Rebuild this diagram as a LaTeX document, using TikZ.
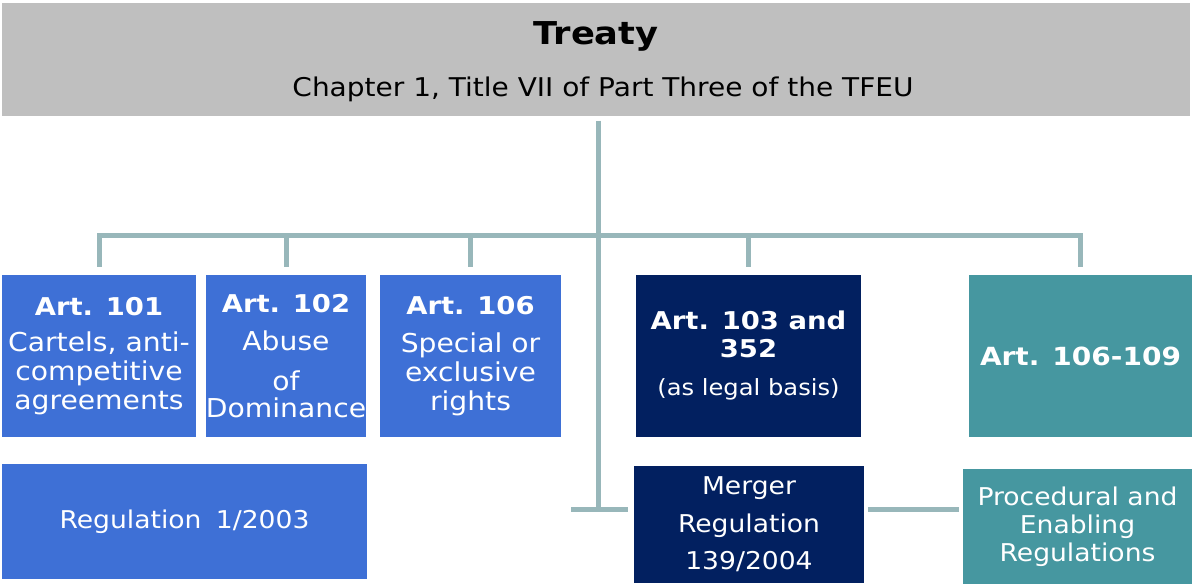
\documentclass[tikz,border=0pt]{standalone}
\usepackage{fontspec}
\setmainfont{DejaVu Sans}[FakeStretch=1.085]
\newfontfamily\boldwide{DejaVu Sans}[FakeStretch=1.12]
\definecolor{grayhead}{HTML}{BFBFBF}
\definecolor{blu}{HTML}{3E70D6}
\definecolor{navy}{HTML}{022060}
\definecolor{teal}{HTML}{4697A0}
\definecolor{linec}{HTML}{98B7BA}
\newcommand\boxfont{\fontsize{26}{29}\selectfont}
\newcommand\lowfont{\fontsize{24.5}{28}\selectfont}
\newcommand\hd[1]{{\boldwide\bfseries\fontsize{24.5}{28}\selectfont #1}}
\begin{document}
\begin{tikzpicture}[x=1pt,y=-1pt,
  box/.style={rectangle, inner sep=0pt, text=white, align=center, font=\boxfont},
  conn/.style={draw=linec, line width=5pt}]
\useasboundingbox[fill=white] (0,0) rectangle (1192,584);

\node[rectangle, fill=grayhead, inner sep=0pt, minimum width=1188pt, minimum height=113pt, align=center, font=\fontsize{25.8}{30}\selectfont]
  (treaty) at (596,59) {\mbox{}\\[-2pt]{\boldwide\bfseries\fontsize{31.5}{36}\selectfont Treaty}\\[22pt]\hspace*{14pt}Chapter 1, Title VII of Part Three of the TFEU};

\node[box, fill=blu, minimum width=194pt, minimum height=162pt] (a101) at (99,356)
  {\hd{Art. 101}\\[7pt]Cartels, anti-\\competitive\\agreements};
\node[box, fill=blu, minimum width=160pt, minimum height=162pt] (a102) at (286,356)
  {\hd{Art. 102}\\[9pt]Abuse\\[11pt]of\\[-2pt]Dominance};
\node[box, fill=blu, minimum width=181pt, minimum height=162pt] (a106) at (470.5,356)
  {\hd{Art. 106}\\[9pt]Special or\\exclusive\\rights};
\node[box, fill=navy, minimum width=225pt, minimum height=162pt] (a103) at (748.5,356)
  {\hd{Art. 103 and}\\[-1pt]\hd{352}\\[9pt]{\fontsize{22.3}{29}\selectfont (as legal basis)}};
\node[box, fill=teal, minimum width=223pt, minimum height=162pt] (a109) at (1080.5,356)
  {{\boldwide\bfseries\fontsize{25}{28}\selectfont Art. 106-109}};

\node[box, fill=blu, minimum width=365pt, minimum height=115pt, font=\lowfont] (reg) at (184.5,521.5)
  {Regulation\hspace{6pt} 1/2003};
\node[box, fill=navy, minimum width=230pt, minimum height=117pt, font=\lowfont] (merger) at (749,524.5)
  {Merger\\[9.5pt]Regulation\\[9.5pt]139/2004};
\node[box, fill=teal, minimum width=229pt, minimum height=115pt, font=\lowfont] (proc) at (1077.5,526.5)
  {Procedural and\\[0pt]Enabling\\[0pt]Regulations};

\coordinate (hub) at (598,236);
\coordinate (low) at (598,509);
\coordinate (stub) at (571,509);

\draw[conn, shorten <=5pt] (treaty.south -| hub) -- (low);
\draw[conn, line join=miter] ([yshift=8pt]a101.north) -- ([yshift=39pt]a101.north)
  -- ([yshift=39pt]a109.north) -- ([yshift=8pt]a109.north);
\foreach \n in {a102,a106,a103}
  \draw[conn] ([yshift=8pt]\n.north) -- ([yshift=39pt]\n.north);
\draw[conn, shorten >=6pt] (stub) -- (merger.west |- low);
\draw[conn, shorten <=4pt, shorten >=4pt] (merger.east |- low) -- (proc.west |- low);
\end{tikzpicture}
\end{document}
